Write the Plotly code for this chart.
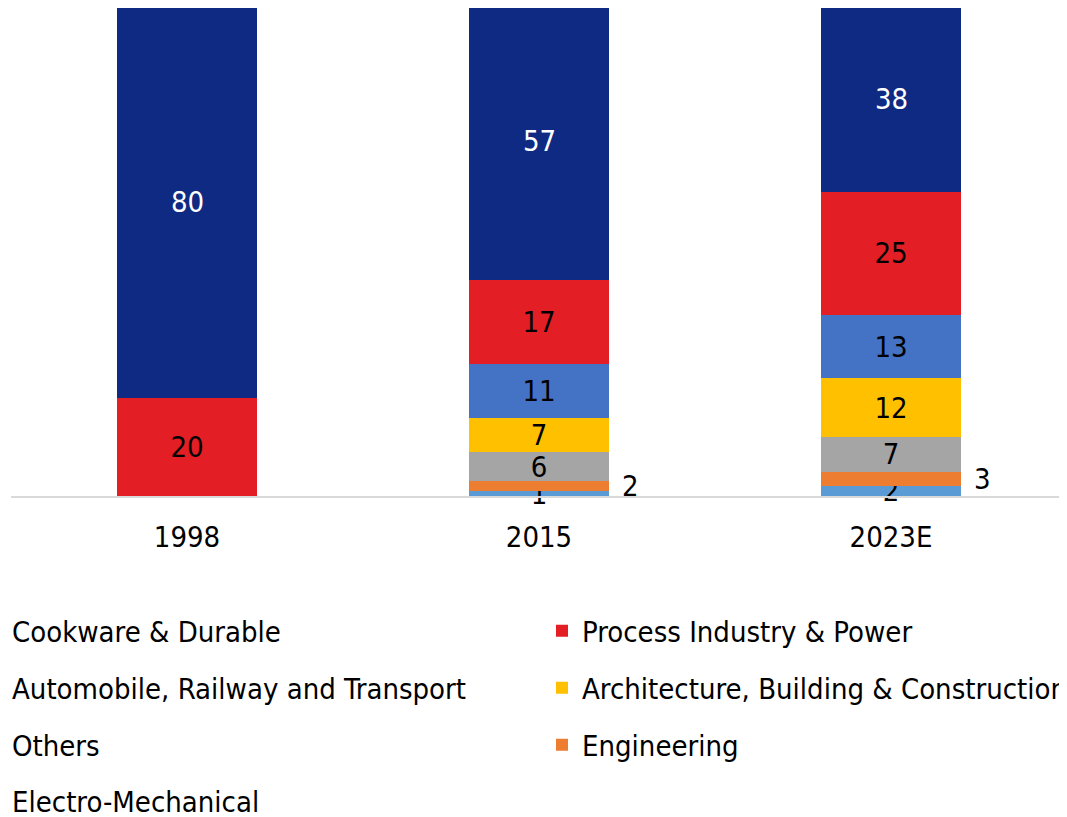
import plotly.graph_objects as go

categories = ["1998", "2015", "2023E"]

# stacked bottom-to-top
series_names = [
    "Electro-Mechanical",
    "Engineering",
    "Others",
    "Architecture, Building & Construction",
    "Automobile, Railway and Transport",
    "Process Industry & Power",
    "Cookware & Durable",
]
electro = [0, 1, 2]
engineering = [0, 2, 3]
others = [0, 6, 7]
architecture = [0, 7, 12]
automobile = [0, 11, 13]
process = [20, 17, 25]
cookware = [80, 57, 38]

values = [electro, engineering, others, architecture, automobile, process, cookware]
colors = ["#5B9BD5", "#ED7D31", "#A5A5A5", "#FFC000", "#4472C4", "#E31E24", "#0F2A82"]
text_colors = ["#000000"] * 6 + ["#FFFFFF"]

FONT = "DejaVu Sans Condensed, Liberation Sans, sans-serif"
FS = 29

# legend layout: (row, column) of each series
legend_pos = {
    "Cookware & Durable": (0, 0),
    "Process Industry & Power": (0, 1),
    "Automobile, Railway and Transport": (1, 0),
    "Architecture, Building & Construction": (1, 1),
    "Others": (2, 0),
    "Engineering": (2, 1),
    "Electro-Mechanical": (3, 0),
}
# figure coordinates (page adds an 8px body margin)
W, H = 1059, 809
row_y = [623, 680, 737, 793]
col_text_x = [4, 574]
PLOT_LEFT, PLOT_BOTTOM = 3, 488
PLOT_W = W - PLOT_LEFT
PX_PER_UNIT = 4.901
TEXT_OFFSET = 40

# labels drawn as annotations: top segment (runs past the plot top) and
# the small Engineering segment (label sits right of the bar)
annotated = {"Cookware & Durable": 0, "Engineering": 91}

fig = go.Figure()
legend_layouts = {}
cum = [0] * len(categories)
for k, (name, vals, col, tcol) in enumerate(zip(series_names, values, colors, text_colors)):
    lid = "legend" if k == 0 else "legend%d" % (k + 1)
    if name in annotated:
        txt = ["" for v in vals]
        for i, v in enumerate(vals):
            if v > 0:
                fig.add_annotation(
                    x=i, y=cum[i] + v / 2, text=str(v), showarrow=False,
                    xanchor="center", yanchor="middle", xshift=annotated[name],
                    font=dict(color=tcol, size=FS, family=FONT),
                )
    else:
        txt = [str(v) if v > 0 else "" for v in vals]
    fig.add_trace(go.Bar(
        name=name, x=categories, y=vals, marker=dict(color=col, line=dict(width=0)),
        text=txt, textposition="inside", insidetextanchor="middle", textangle=0,
        constraintext="none", cliponaxis=False,
        textfont=dict(color=tcol, size=FS, family=FONT),
        legend=lid, hoverinfo="skip",
    ))
    cum = [a + b for a, b in zip(cum, vals)]
    r, c = legend_pos[name]
    legend_layouts[lid] = dict(
        orientation="h", xanchor="left", yanchor="middle",
        x=(col_text_x[c] - TEXT_OFFSET - PLOT_LEFT) / PLOT_W,
        y=(PLOT_BOTTOM - row_y[r]) / PLOT_BOTTOM,
        font=dict(size=FS, family=FONT, color="#000000"),
        bgcolor="rgba(0,0,0,0)",
    )

fig.update_layout(
    width=W, height=H,
    margin=dict(l=PLOT_LEFT, r=0, t=0, b=H - PLOT_BOTTOM, autoexpand=False),
    barmode="stack", bargap=0.602,
    plot_bgcolor="white", paper_bgcolor="white",
    font=dict(family=FONT, size=FS, color="#000000"),
    showlegend=True,
    xaxis=dict(type="category", range=[-0.5, len(categories) - 0.5],
               showline=True, linecolor="#D9D9D9", linewidth=2, ticks="",
               ticklabelstandoff=14,
               tickfont=dict(size=FS, family=FONT, color="#000000"),
               showgrid=False, zeroline=False),
    yaxis=dict(range=[0, PLOT_BOTTOM / PX_PER_UNIT], visible=False,
               showgrid=False, zeroline=False),
    **legend_layouts,
)

fig.write_html("out.html")
